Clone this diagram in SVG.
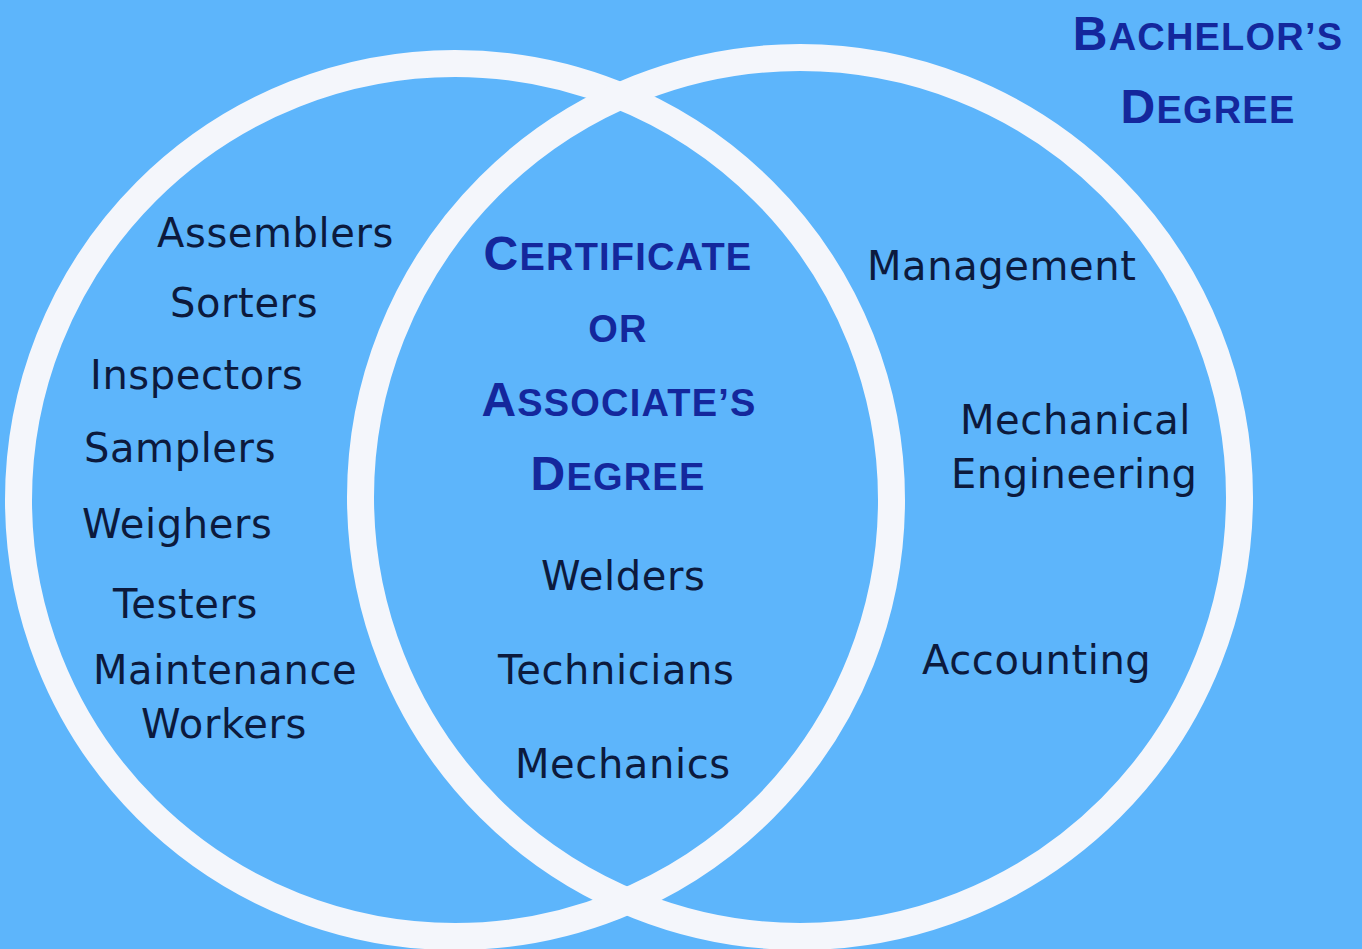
<svg xmlns="http://www.w3.org/2000/svg" width="1362" height="949" viewBox="0 0 1362 949">
<style>
.ring{fill:none;stroke:#f4f6fb;stroke-width:27}
.item{font-family:"DejaVu Sans","Liberation Sans",sans-serif;font-size:40px;fill:#0c1a3d;letter-spacing:0.6px}
.head{font-family:"Liberation Sans",Arial,sans-serif;font-weight:bold;fill:#14279c;text-anchor:middle;letter-spacing:1.2px}
.big{font-size:48px}
.sm{font-size:38px}
</style>
<rect width="1362" height="949" fill="#5db5fb"/>
<g id="circles">
<circle id="left-circle" class="ring" cx="455" cy="500" r="436.5"/>
<circle id="right-circle" class="ring" cx="800" cy="497" r="439.5"/>
</g>
<g id="connectors"/>
<g id="bachelors-label">
<text class="head" x="1208" y="50"><tspan class="big">B</tspan><tspan class="sm">ACHELOR’S</tspan></text>
<text class="head" x="1208" y="123"><tspan class="big">D</tspan><tspan class="sm">EGREE</tspan></text>
</g>
<g id="associate-label">
<text class="head" x="618" y="270"><tspan class="big">C</tspan><tspan class="sm">ERTIFICATE</tspan></text>
<text class="head sm" x="618" y="342">OR</text>
<text class="head" x="619" y="416"><tspan class="big">A</tspan><tspan class="sm">SSOCIATE’S</tspan></text>
<text class="head" x="618" y="490"><tspan class="big">D</tspan><tspan class="sm">EGREE</tspan></text>
</g>
<g id="left-items">
<text class="item" x="157" y="247">Assemblers</text>
<text class="item" x="170" y="317">Sorters</text>
<text class="item" x="90" y="389">Inspectors</text>
<text class="item" x="84" y="462">Samplers</text>
<text class="item" x="82" y="538">Weighers</text>
<text class="item" x="113" y="618">Testers</text>
<text class="item" x="93" y="684">Maintenance</text>
<text class="item" x="141" y="738">Workers</text>
</g>
<g id="middle-items">
<text class="item" x="541" y="590">Welders</text>
<text class="item" x="498" y="684">Technicians</text>
<text class="item" x="515" y="778">Mechanics</text>
</g>
<g id="right-items">
<text class="item" x="867" y="280">Management</text>
<text class="item" x="960" y="434">Mechanical</text>
<text class="item" x="951" y="488">Engineering</text>
<text class="item" x="922" y="674">Accounting</text>
</g>
</svg>
